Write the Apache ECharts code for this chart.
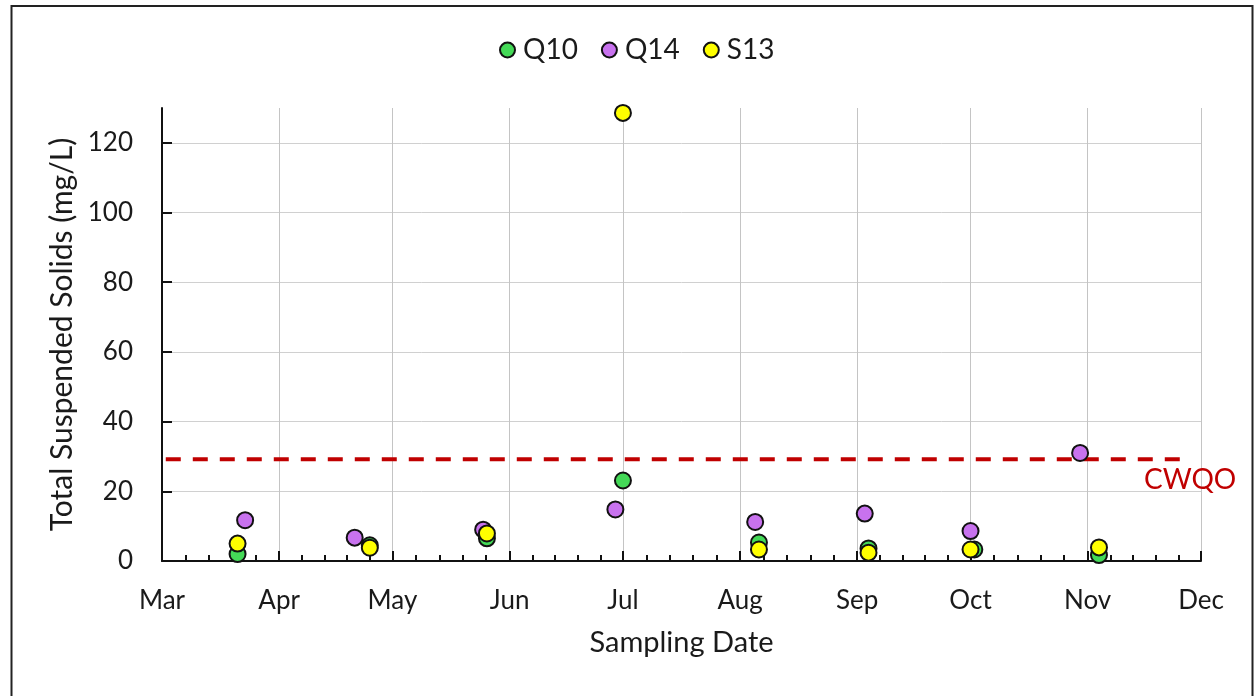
<!DOCTYPE html>
<html>
<head>
<meta charset="utf-8">
<script src="https://cdn.jsdelivr.net/npm/echarts@6/dist/echarts.min.js"></script>
<style>
html, body { margin: 0; padding: 0; background: #fff; }
#chart { width: 1254px; height: 696px; }
</style>
</head>
<body>
<div id="chart"></div>
<script>
// sampling dates and TSS values (mg/L) per station
var q10Dates = ['2021-03-21', '2021-04-25', '2021-05-26', '2021-07-01', '2021-08-06', '2021-09-04', '2021-10-02', '2021-11-04'];
var q10Values = [2.0, 4.5, 6.5, 23.1, 5.3, 3.6, 3.3, 1.7];

var q14Dates = ['2021-03-23', '2021-04-21', '2021-05-25', '2021-06-29', '2021-08-05', '2021-09-03', '2021-10-01', '2021-10-30'];
var q14Values = [11.7, 6.7, 9.0, 14.8, 11.2, 13.6, 8.6, 31.0];

var s13Dates = ['2021-03-21', '2021-04-25', '2021-05-26', '2021-07-01', '2021-08-06', '2021-09-04', '2021-10-01', '2021-11-04'];
var s13Values = [5.0, 3.8, 7.9, 128.6, 3.3, 2.4, 3.3, 3.9];

// guideline line
var cwqoDates = ['2021-03-02', '2021-11-26'];
var cwqoValue = 29.2;

var yTicks = [0, 20, 40, 60, 80, 100, 120];
var monthNames = ['Jan', 'Feb', 'Mar', 'Apr', 'May', 'Jun', 'Jul', 'Aug', 'Sep', 'Oct', 'Nov', 'Dec'];

function pairs(dates, values) {
    return dates.map(function (d, i) { return [d, values[i]]; });
}

var font = 'Lato';
var textColor = '#1a1a1a';

function station(name, color, dates, values) {
    return {
        name: name,
        type: 'scatter',
        symbol: 'circle',
        symbolSize: 16,
        itemStyle: { color: color, borderColor: '#111', borderWidth: 2, opacity: 1 },
        data: pairs(dates, values),
        z: 3
    };
}

var chart = echarts.init(document.getElementById('chart'));

var cwqoData = pairs(cwqoDates, [cwqoValue, cwqoValue]);
cwqoData[1] = {
    value: cwqoData[1],
    label: {
        show: true,
        formatter: 'CWQO',
        position: 'bottom',
        distance: 7,
        offset: [8, 0],
        color: '#c00000',
        fontFamily: font,
        fontSize: 28
    }
};

var option = {
    backgroundColor: '#fff',
    animation: false,
    textStyle: { fontFamily: font, color: textColor },
    graphic: [{
        type: 'rect',
        shape: { x: 11.5, y: 6, width: 1241, height: 700 },
        style: { fill: 'none', stroke: '#222', lineWidth: 2 },
        silent: true
    }],
    legend: {
        data: ['Q10', 'Q14', 'S13'],
        top: 31,
        left: 494,
        itemGap: 23,
        itemWidth: 15,
        itemHeight: 15,
        icon: 'circle',
        textStyle: { fontFamily: font, fontSize: 28, color: textColor, padding: [0, 0, 0, 3] }
    },
    grid: { left: 162, right: 53, top: 108, bottom: 135 },
    xAxis: {
        type: 'time',
        min: '2021-03-01',
        max: '2021-12-01',
        splitNumber: 9,
        minInterval: 28 * 24 * 3600 * 1000,
        name: 'Sampling Date',
        nameLocation: 'middle',
        nameGap: 67,
        nameTextStyle: { fontFamily: font, fontSize: 29, color: textColor },
        axisLine: { lineStyle: { color: '#111', width: 2 } },
        axisTick: { inside: true, length: 10, lineStyle: { color: '#111', width: 2 } },
        minorTick: { show: true, splitNumber: 5, length: 6, lineStyle: { color: '#111', width: 2 } },
        axisLabel: {
            margin: 27,
            fontFamily: font,
            fontSize: 26,
            color: textColor,
            showMinLabel: true,
            showMaxLabel: true,
            formatter: function (v) { return monthNames[new Date(v).getMonth()]; }
        },
        splitLine: { show: true, lineStyle: { color: '#c4c4c4', width: 1 } }
    },
    yAxis: {
        type: 'value',
        min: 0,
        max: 130,
        interval: 20,
        name: 'Total Suspended Solids (mg/L)',
        nameLocation: 'middle',
        nameGap: 82,
        nameTextStyle: { fontFamily: font, fontSize: 30, color: textColor },
        axisLine: { show: true, lineStyle: { color: '#111', width: 2 } },
        axisTick: { show: true, inside: true, length: 10, customValues: yTicks, lineStyle: { color: '#111', width: 2 } },
        axisLabel: { margin: 29, fontFamily: font, fontSize: 26, color: textColor, customValues: yTicks },
        splitLine: {
            show: true,
            lineStyle: { color: ['#d0d0d0', '#d0d0d0', '#d0d0d0', '#d0d0d0', '#d0d0d0', '#d0d0d0', '#d0d0d0', 'rgba(0,0,0,0)'], width: 1 }
        }
    },
    series: [
        {
            name: 'CWQO',
            type: 'line',
            symbol: 'circle',
            symbolSize: 0,
            showSymbol: true,
            itemStyle: { color: '#c00000' },
            lineStyle: { color: '#c00000', width: 4, type: [15, 12] },
            data: cwqoData,
            z: 1
        },
        station('Q10', '#44d957', q10Dates, q10Values),
        station('Q14', '#c872ee', q14Dates, q14Values),
        station('S13', '#ffff00', s13Dates, s13Values)
    ]
};

chart.setOption(option);
</script>
</body>
</html>
